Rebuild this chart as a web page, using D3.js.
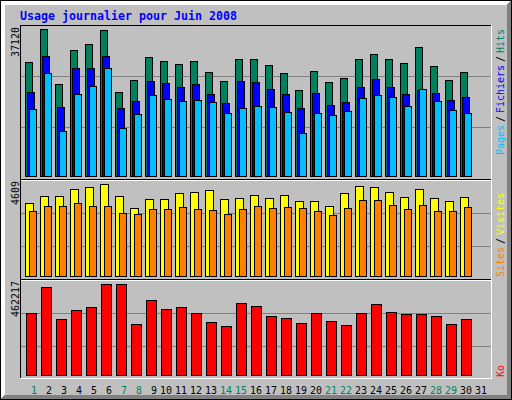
<!doctype html>
<meta charset="utf-8">
<script src="https://d3js.org/d3.v7.min.js"></script>
<style>
  body { margin: 0; background: #c0c0c0; }
  svg { display: block; }
  text { font-family: "DejaVu Sans Mono", monospace; }
</style>
<body>
<script>
  // daily values, June 2008
  var days = [1, 2, 3, 4, 5, 6, 7, 8, 9, 10, 11, 12, 13, 14, 15, 16,
    17, 18, 19, 20, 21, 22, 23, 24, 25, 26, 27, 28, 29, 30, 31];
  var hits = [28787, 37120, 23232, 31818, 33333, 36868, 21212, 24242, 30050, 29040, 28282,
    29040, 26262, 23989, 29545, 29545, 28030, 26010, 21717, 26515, 23737, 24747, 29545,
    30808, 29545, 28535, 32575, 27777, 24242, 26262, 0];
  var files = [21212, 30302, 17424, 27272, 27272, 30302, 17171, 18939, 23989, 23484, 22474,
    23232, 20707, 18434, 23989, 23737, 21969, 20707, 17171, 20959, 17929, 18686, 22474,
    24494, 22474, 20707, 21717, 20959, 19191, 19949, 0];
  var pages = [16919, 26010, 11363, 20707, 22727, 27272, 12121, 15656, 20454, 19444, 18939,
    19191, 18686, 15909, 17171, 17676, 17424, 16161, 10858, 15909, 15404, 16414, 19696,
    20454, 19949, 17676, 21969, 18939, 16666, 15909, 0];
  var visits = [3657, 4008, 4008, 4359, 4459, 4609, 4008, 3407, 3858, 3858, 4158, 4208, 4308,
    3858, 3908, 4058, 3908, 4058, 3757, 3757, 3507, 4158, 4509, 4459, 4208, 3958, 4359,
    3908, 3757, 3958, 0];
  var sites = [3256, 3507, 3507, 3657, 3507, 3507, 3156, 3106, 3357, 3357, 3457, 3357, 3307,
    3106, 3357, 3507, 3407, 3457, 3407, 3256, 3056, 3407, 3808, 3808, 3557, 3357, 3557,
    3256, 3256, 3457, 0];
  var kbytes = [314917, 446978, 284441, 330154, 345392, 462217, 461000, 259044, 380947,
    335234, 345392, 314917, 269203, 248886, 365710, 350471, 299679, 289520, 264124, 314917,
    274282, 253965, 314917, 360630, 319996, 309837, 309837, 299679, 259044, 284441, 0];

  var title = "Usage journalier pour Juin 2008";

  var grey = "#c0c0c0", dkgrey = "#808080", white = "#ffffff", black = "#000000";
  var hitColor = "#00805c", fileColor = "#0000ff", pageColor = "#00c0ff";
  var visitColor = "#ffff00", siteColor = "#ff8000", kbyteColor = "#ff0000";

  var svg = d3.select("body").append("svg")
    .attr("width", 512)
    .attr("height", 400)
    .attr("shape-rendering", "crispEdges");

  svg.append("rect").attr("width", 512).attr("height", 400).attr("fill", grey);

  // 1px lines as rects, gd style (inclusive pixel coords)
  function hline(y, xa, xb, c) {
    svg.append("rect").attr("x", xa).attr("y", y)
      .attr("width", xb - xa + 1).attr("height", 1).attr("fill", c);
  }
  function vline(x, ya, yb, c) {
    svg.append("rect").attr("x", x).attr("y", ya)
      .attr("width", 1).attr("height", yb - ya + 1).attr("fill", c);
  }

  // --- outer bevel
  for (var i = 0; i < 5; i++) {
    hline(i, i, 511 - i, white);
    vline(i, i, 399 - i, white);
    hline(399 - i, i, 511 - i, dkgrey);
    vline(511 - i, i, 399 - i, dkgrey);
  }
  hline(0, 0, 511, black); hline(399, 0, 511, black);
  vline(0, 0, 399, black); vline(511, 0, 399, black);

  // --- grid lines (thirds of each section)
  [76, 127, 213, 246, 313, 346].forEach(function (gy) { hline(gy, 21, 490, dkgrey); });

  // --- inner box + section lines
  hline(25, 20, 491, black);
  vline(20, 25, 378, black);
  hline(378, 20, 491, white);
  vline(491, 25, 378, white);
  hline(179, 21, 490, black); hline(180, 21, 490, white);
  hline(279, 21, 490, black); hline(280, 21, 490, white);

  // --- scales
  var x = d3.scaleBand().domain(days).range([25, 25 + days.length * 15]).paddingInner(0);
  var yTop = d3.scaleLinear().domain([0, d3.max(hits)]).range([176, 29]);
  var yMid = d3.scaleLinear().domain([0, d3.max(visits)]).range([276, 184]);
  var yBot = d3.scaleLinear().domain([0, d3.max(kbytes)]).range([375, 284]);

  // bars: from x(day)+a to x(day)+b inclusive, black outline
  function bars(vals, y, a, b, color) {
    var base = y(0);
    svg.append("g").selectAll("rect")
      .data(days.map(function (d, i) { return { day: d, v: vals[i] }; })
        .filter(function (d) { return d.v > 0; }))
      .enter().append("rect")
      .attr("x", function (d) { return x(d.day) + a + 0.5; })
      .attr("y", function (d) { return Math.round(y(d.v)) + 0.5; })
      .attr("width", b - a)
      .attr("height", function (d) { return base - Math.round(y(d.v)); })
      .attr("fill", color)
      .attr("stroke", black)
      .attr("stroke-width", 1);
  }

  bars(hits, yTop, 0, 7, hitColor);
  bars(files, yTop, 2, 9, fileColor);
  bars(pages, yTop, 4, 11, pageColor);
  bars(visits, yMid, 0, 8, visitColor);
  bars(sites, yMid, 4, 11, siteColor);
  bars(kbytes, yBot, 1, 11, kbyteColor);

  // --- text helpers (6px / 7px fixed cells like the gd fonts)
  function label(tx, ty, str, color, up, size, cell, bold) {
    var t = svg.append("text")
      .attr("x", tx).attr("y", ty)
      .attr("fill", color)
      .attr("font-size", size + "px")
      .attr("textLength", str.length * cell)
      .attr("lengthAdjust", "spacingAndGlyphs")
      .text(str);
    if (bold) t.attr("font-weight", "bold");
    if (up) t.attr("transform", "rotate(-90," + tx + "," + ty + ")");
    return t;
  }

  label(20, 20, title, fileColor, false, 12, 7, true);

  // max values on the left
  label(19, 57, String(d3.max(hits)), black, true, 11, 6);
  label(19, 205, String(d3.max(visits)), black, true, 11, 6);
  label(19, 317, String(d3.max(kbytes)), black, true, 11, 6);

  // legends on the right
  label(504, 155, "Pages", pageColor, true, 11, 6);
  label(504, 122, "/", black, true, 11, 6);
  label(504, 113, "Fichiers", fileColor, true, 11, 6);
  label(504, 62, "/", black, true, 11, 6);
  label(504, 53, "Hits", hitColor, true, 11, 6);

  label(504, 277, "Sites", siteColor, true, 11, 6);
  label(504, 244, "/", black, true, 11, 6);
  label(504, 235, "Visites", visitColor, true, 11, 6);

  label(504, 377, "Ko", kbyteColor, true, 11, 6);

  // day labels, weekends in hit colour
  days.forEach(function (d) {
    var wd = new Date(2008, 5, d).getDay();
    var s = String(d);
    label(x(d) + (s.length < 2 ? 6 : 0), 394, s,
      (wd === 0 || wd === 6) ? hitColor : black, false, 11, 6);
  });
</script>
</body>
